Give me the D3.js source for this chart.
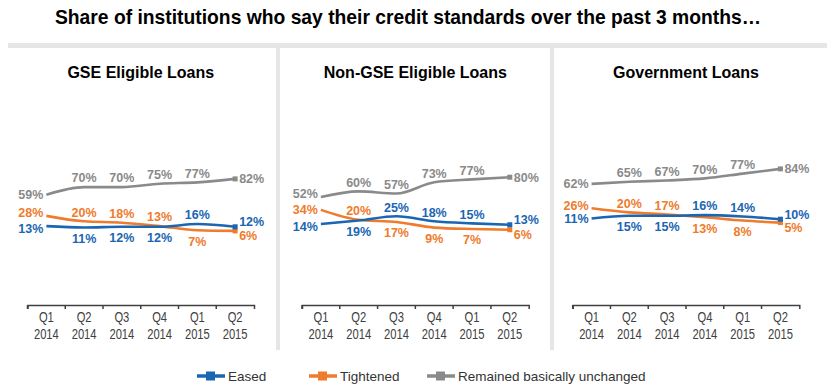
<!DOCTYPE html>
<html>
<head>
<meta charset="utf-8">
<script src="https://cdn.jsdelivr.net/npm/d3@7"></script>
<style>
  body { margin: 0; background: #fff; }
  svg { display: block; font-family: "Liberation Sans", Arial, sans-serif; }
</style>
</head>
<body>
<script>

// categories
var quarterLabels = ["Q1", "Q2", "Q3", "Q4", "Q1", "Q2"];
var yearLabels = ["2014", "2014", "2014", "2014", "2015", "2015"];
var panelTitles = ["GSE Eligible Loans", "Non-GSE Eligible Loans", "Government Loans"];
var seriesNames = ["Eased", "Tightened", "Remained basically unchanged"];

// values (%)
var gseEased      = [13, 11, 12, 12, 16, 12];
var gseTightened  = [28, 20, 18, 13, 7, 6];
var gseUnchanged  = [59, 70, 70, 75, 77, 82];

var nonGseEased     = [14, 19, 25, 18, 15, 13];
var nonGseTightened = [34, 20, 17, 9, 7, 6];
var nonGseUnchanged = [52, 60, 57, 73, 77, 80];

var govEased      = [11, 15, 15, 16, 14, 10];
var govTightened  = [26, 20, 17, 13, 8, 5];
var govUnchanged  = [62, 65, 67, 70, 77, 84];

// where each value label sits relative to its point
var gsePos = [
	["Ld", "B", "B", "B", "A", "Ru"],
	["Lu", "A", "A", "A", "B", "Rd"],
	["L",  "A", "A", "A", "A", "R"]
];
var nonGsePos = [
	["Ld", "B", "A", "A", "A", "Ru"],
	["L",  "A", "B", "B", "B", "Rd"],
	["Lu", "A", "A", "A", "A", "R"]
];
var govPos = [
	["L",  "B", "B", "A", "A", "Ru"],
	["Lu", "A", "A", "B", "B", "Rd"],
	["L",  "A", "A", "A", "A", "R"]
];

var colors = ["#1a66b2", "#ef7b2c", "#8a8a8a"];

var width = 827;
var height = 389;
var axisY = 305;

// panel frames
var layout = [
	{x0: 27.5, x1: 254, y0: 235, y100: 166.6},
	{x0: 302, x1: 528.7, y0: 234, y100: 163},
	{x0: 572.7, x1: 799.3, y0: 226, y100: 158}
];

var panels = [
	{title: panelTitles[0], series: [gseEased, gseTightened, gseUnchanged], pos: gsePos},
	{title: panelTitles[1], series: [nonGseEased, nonGseTightened, nonGseUnchanged], pos: nonGsePos},
	{title: panelTitles[2], series: [govEased, govTightened, govUnchanged], pos: govPos}
];

var svg = d3.select("body")
	.append("svg")
		.attr("width", width)
		.attr("height", height);

svg.append("text")
	.attr("x", 408)
	.attr("y", 24)
	.attr("text-anchor", "middle")
	.attr("font-size", "19.3px")
	.attr("font-weight", "bold")
	.style("fill", "#000")
	.text("Share of institutions who say their credit standards over the past 3 months\u2026");

// grey frame: top band + separators
svg.append("rect")
	.attr("x", 8).attr("y", 43)
	.attr("width", width - 8).attr("height", 5)
	.style("fill", "#e6e6e6");
[276, 550].forEach(function(sx) {
	svg.append("rect")
		.attr("x", sx).attr("y", 48)
		.attr("width", 4).attr("height", 302)
		.style("fill", "#e6e6e6");
});

var offsets = {
	A:  {dx: 0, dy: -9, anchor: "middle"},
	B:  {dx: 0, dy: 11, anchor: "middle"},
	L:  {dx: -3, dy: 0, anchor: "end"},
	Lu: {dx: -3, dy: -3, anchor: "end"},
	Ld: {dx: -3, dy: 3, anchor: "end"},
	R:  {dx: 4, dy: 0, anchor: "start"},
	Ru: {dx: 4, dy: -5, anchor: "start"},
	Rd: {dx: 4, dy: 5, anchor: "start"}
};

panels.forEach(function(p, i) {
	var L = layout[i];
	var g = svg.append("g").attr("class", "panel");

	var x = d3.scaleBand()
		.domain(d3.range(quarterLabels.length))
		.range([L.x0, L.x1]);
	var y = d3.scaleLinear()
		.domain([0, 100])
		.range([L.y0, L.y100]);
	var cx = function(j) { return x(j) + x.bandwidth() / 2; };

	g.append("text")
		.attr("x", (L.x0 + L.x1) / 2)
		.attr("y", 78)
		.attr("text-anchor", "middle")
		.attr("font-size", "16px")
		.attr("font-weight", "bold")
		.style("fill", "#000")
		.text(p.title);

	// x axis
	var xAxis = d3.axisBottom(x)
		.tickSizeInner(0)
		.tickSizeOuter(4)
		.tickPadding(7)
		.tickFormat(function(d) { return quarterLabels[d]; });
	var ax = g.append("g")
		.attr("transform", "translate(0," + axisY + ")")
		.call(xAxis);
	ax.select(".domain").style("stroke", "#404040").style("stroke-width", 1.5);
	ax.selectAll(".tick text")
		.attr("font-size", "14px")
		.attr("font-family", "'Liberation Sans', Arial, sans-serif")
		.attr("transform", "scale(0.8,1)")
		.style("fill", "#404040")
		.each(function(d) {
			d3.select(this).append("tspan")
				.attr("x", 0)
				.attr("dy", "1.25em")
				.text(yearLabels[d]);
		});
	var bounds = x.domain().map(function(d) { return x(d); });
	g.selectAll(".btick")
		.data(bounds)
		.enter().append("line")
		.attr("x1", function(d) { return d; })
		.attr("x2", function(d) { return d; })
		.attr("y1", axisY)
		.attr("y2", axisY + 4)
		.style("stroke", "#404040")
		.style("stroke-width", 1.5);

	var line = d3.line()
		.x(function(d, j) { return cx(j); })
		.y(function(d) { return y(d); })
		.curve(d3.curveMonotoneX);

	// draw grey first so blue/orange sit on top
	[2, 1, 0].forEach(function(s) {
		var vals = p.series[s];
		g.append("path")
			.datum(vals)
			.attr("d", line)
			.style("fill", "none")
			.style("stroke", colors[s])
			.style("stroke-width", 2.6);

		var last = vals.length - 1;
		g.append("rect")
			.attr("x", cx(last) - 2.5)
			.attr("y", y(vals[last]) - 2.5)
			.attr("width", 5).attr("height", 5)
			.style("fill", colors[s]);

		g.selectAll(".lbl" + s)
			.data(vals)
			.enter().append("text")
			.attr("x", function(d, j) { return cx(j) + offsets[p.pos[s][j]].dx; })
			.attr("y", function(d, j) { return y(d) + offsets[p.pos[s][j]].dy; })
			.attr("dy", "0.35em")
			.attr("text-anchor", function(d, j) { return offsets[p.pos[s][j]].anchor; })
			.attr("font-size", "12.5px")
			.attr("font-weight", "bold")
			.style("fill", colors[s])
			.text(function(d) { return d + "%"; });
	});
});

// legend
var legendX = [197, 309, 427];
var lg = svg.append("g").attr("transform", "translate(0,376)");
seriesNames.forEach(function(name, s) {
	lg.append("line")
		.attr("x1", legendX[s]).attr("x2", legendX[s] + 28)
		.attr("y1", 0).attr("y2", 0)
		.style("stroke", colors[s])
		.style("stroke-width", 3.5);
	lg.append("rect")
		.attr("x", legendX[s] + 9).attr("y", -4.5)
		.attr("width", 9).attr("height", 9)
		.style("fill", colors[s]);
	lg.append("text")
		.attr("x", legendX[s] + 31)
		.attr("y", 0)
		.attr("dy", "0.35em")
		.attr("font-size", "13.5px")
		.style("fill", "#333")
		.text(name);
});

</script>
</body>
</html>
